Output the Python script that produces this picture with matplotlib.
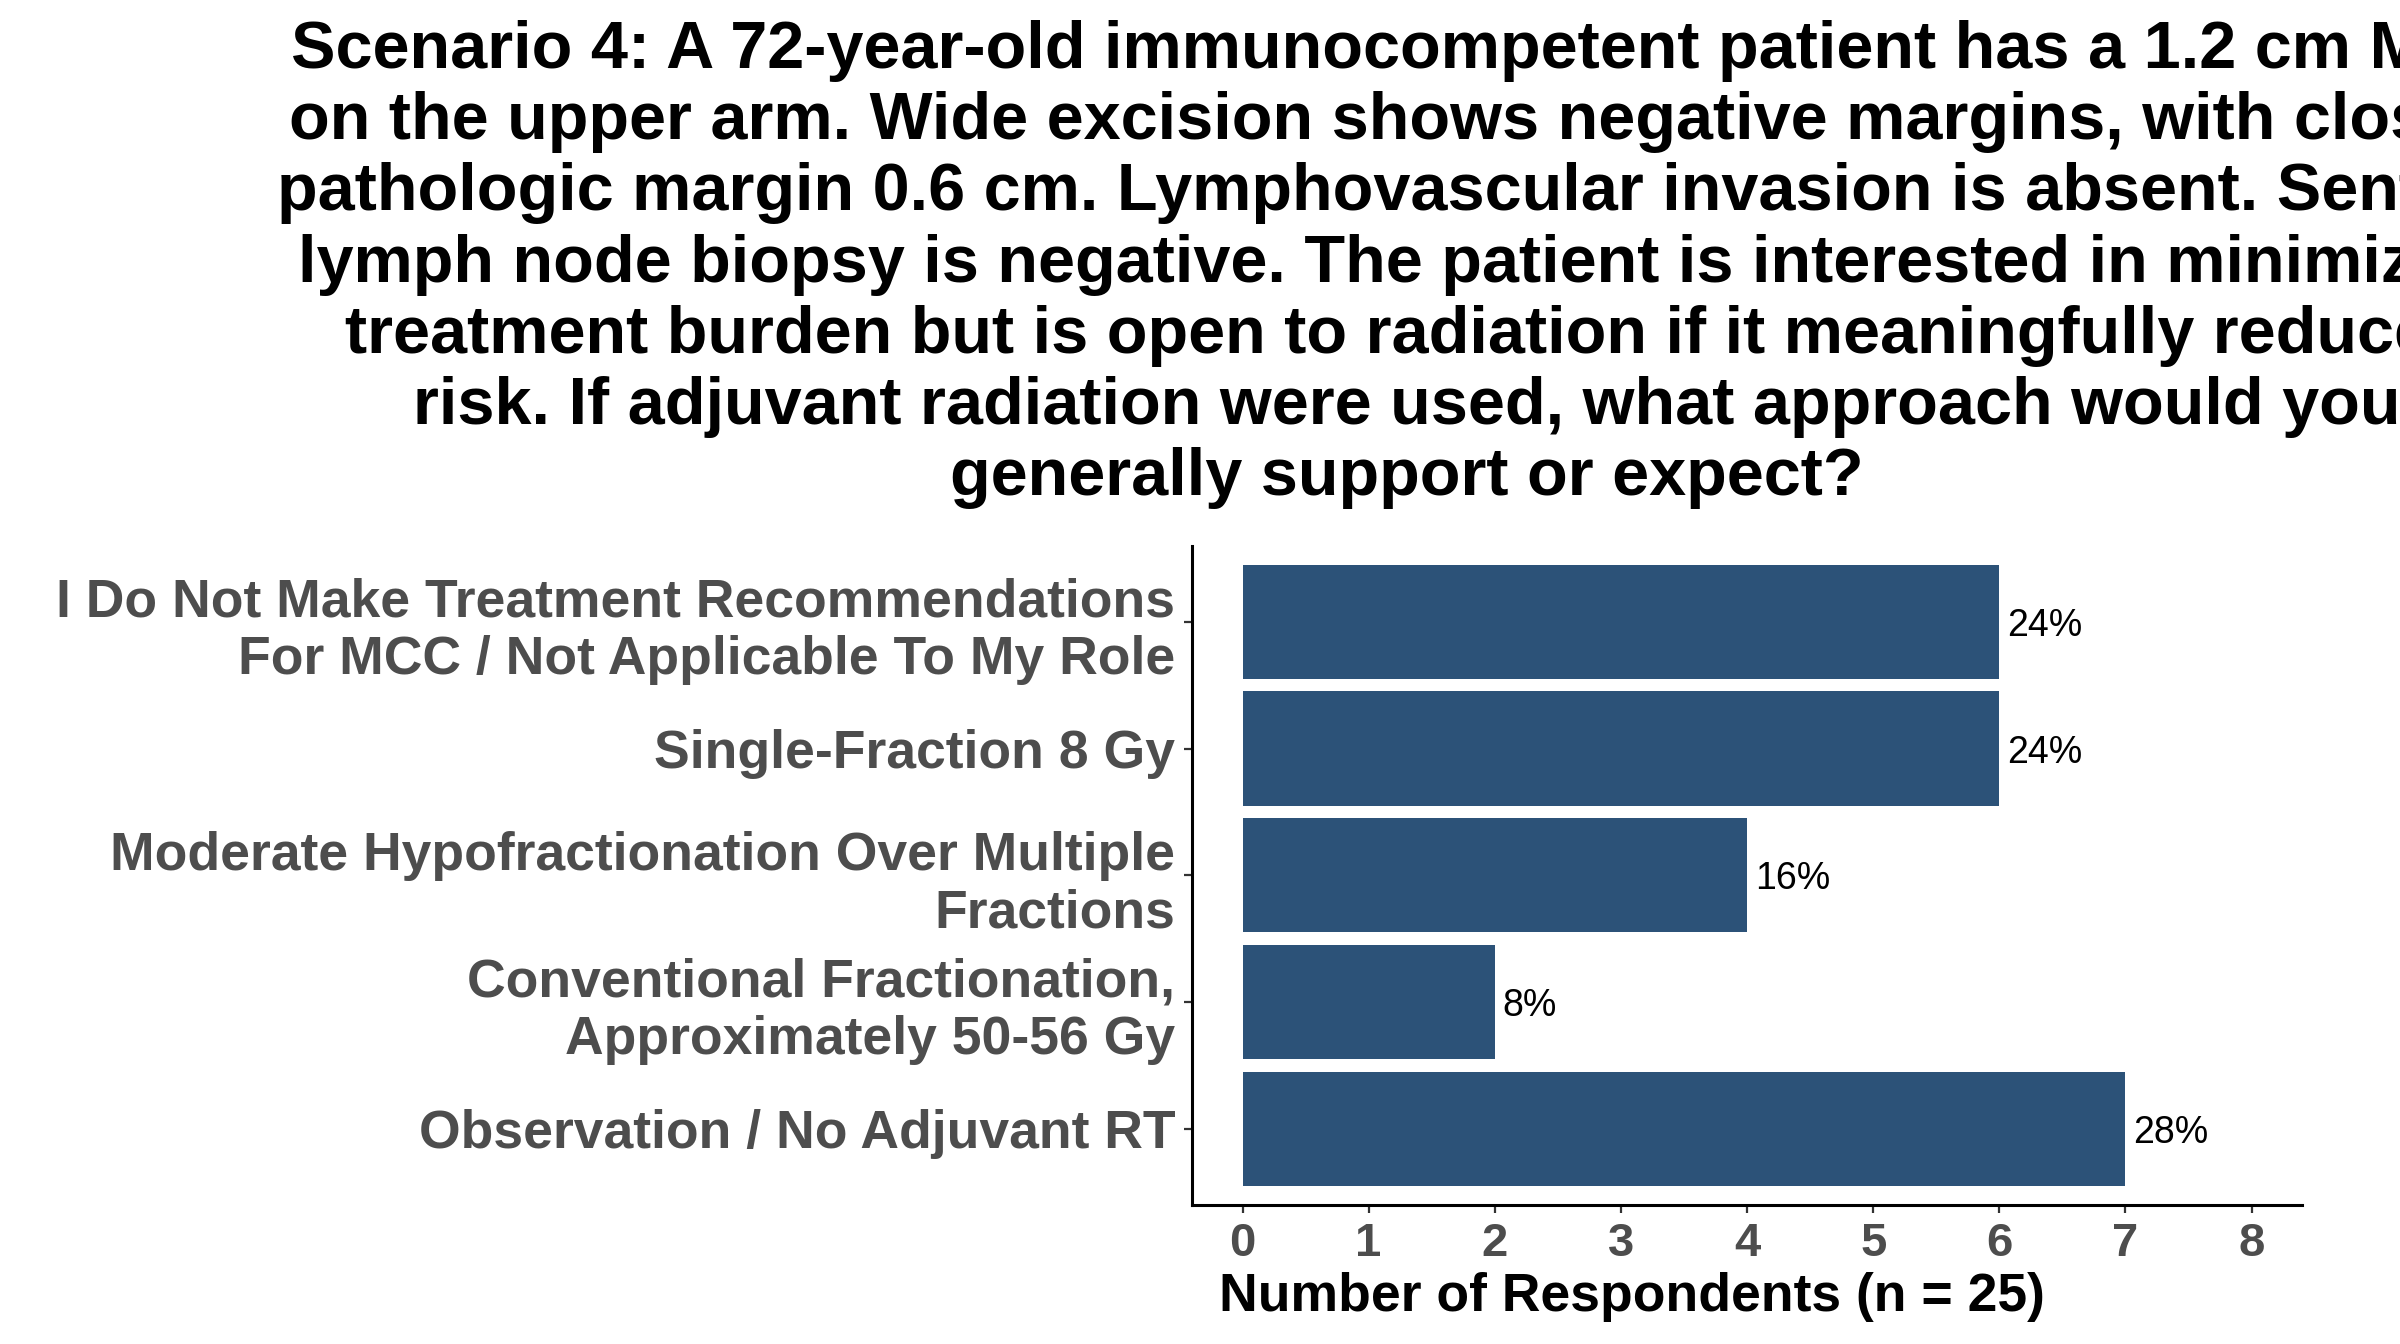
import matplotlib
matplotlib.use('Agg')
import matplotlib.pyplot as plt

# data
categories = [
    'Observation / No Adjuvant RT',
    'Conventional Fractionation,\nApproximately 50-56 Gy',
    'Moderate Hypofractionation Over Multiple\nFractions',
    'Single-Fraction 8 Gy',
    'I Do Not Make Treatment Recommendations\nFor MCC / Not Applicable To My Role',
]
counts = [7, 2, 4, 6, 6]
percent_labels = ['28%', '8%', '16%', '24%', '24%']
x_ticks = [0, 1, 2, 3, 4, 5, 6, 7, 8]

title = ('Scenario 4: A 72-year-old immunocompetent patient has a 1.2 cm MCC\n'
         'on the upper arm. Wide excision shows negative margins, with closest\n'
         'pathologic margin 0.6 cm. Lymphovascular invasion is absent. Sentinel\n'
         'lymph node biopsy is negative. The patient is interested in minimizing\n'
         'treatment burden but is open to radiation if it meaningfully reduces\n'
         'risk. If adjuvant radiation were used, what approach would you\n'
         'generally support or expect?')

plt.rcParams['font.family'] = ['Liberation Sans', 'DejaVu Sans']

fig = plt.figure(figsize=(24, 13.44), dpi=100)
ax = fig.add_axes([0.4967, 0.1034, 0.4625, 0.4906])

pos = list(range(1, len(categories) + 1))
ax.barh(pos, counts, height=0.9, color='#2C5278')
for p, c, lab in zip(pos, counts, percent_labels):
    ax.text(c + 0.06, p, lab, va='center_baseline', ha='left', fontsize=27,
            color='black')

ax.set_xlim(-0.4, 8.4)
ax.set_ylim(0.4, 5.6)
ax.set_xticks(x_ticks)
ax.set_yticks(pos)
ax.set_yticklabels(categories, fontsize=38.5, fontweight='bold', color='#4D4D4D',
                   linespacing=1.2)
ax.set_xticklabels([str(t) for t in x_ticks], fontsize=34, fontweight='bold',
                   color='#4D4D4D')
ax.set_xlabel('Number of Respondents (n = 25)', fontsize=38.5, fontweight='bold',
              color='black')
ax.xaxis.set_label_coords(0.396, -0.102)
ax.xaxis.label.set_va('top')

for side in ['top', 'right']:
    ax.spines[side].set_visible(False)
for side in ['left', 'bottom']:
    ax.spines[side].set_linewidth(2.2)
    ax.spines[side].set_color('black')
ax.tick_params(axis='both', length=6, width=1.6, color='#333333', pad=6)

fig.text(0.586, 0.985, title, ha='center', va='top', fontsize=48,
         fontweight='bold', color='black', linespacing=1.19)

fig.savefig('out.png', dpi=100)
